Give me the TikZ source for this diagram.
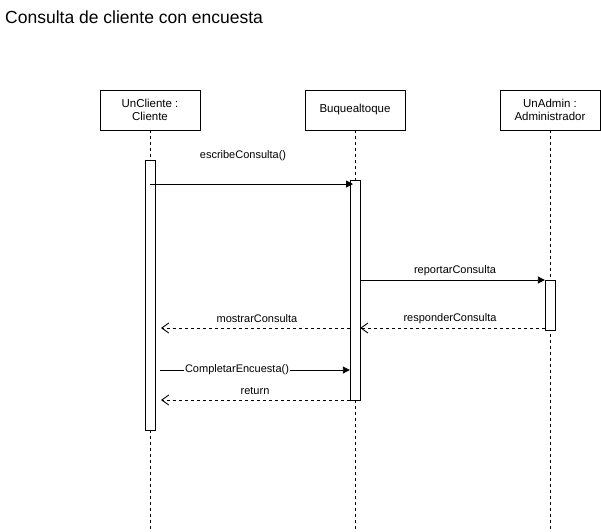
\documentclass[tikz,border=0pt]{standalone}
\usepackage{fontspec}
\setmainfont{Liberation Sans}
\usetikzlibrary{arrows.meta, positioning}

\begin{document}
\begin{tikzpicture}[x=1pt, y=-1pt,
		obj/.style={draw, fill=white, minimum width=100pt, minimum height=40pt,
			align=center, font=\fontsize{11.5}{13.5}\selectfont, inner sep=1pt},
		act/.style={draw, fill=white, minimum width=10pt, inner sep=0pt, anchor=north},
		life/.style={dash pattern=on 3pt off 3pt, line width=0.8pt},
		msg/.style={-{Triangle[length=7pt, width=7pt]}, line width=0.9pt},
		ret/.style={-{Straight Barb[length=7pt, width=10pt]}, line width=0.9pt, dash pattern=on 3pt off 3pt},
		lbl/.style={font=\fontsize{11}{13}\selectfont, inner sep=1pt}
		]
		\useasboundingbox (0,0) rectangle (601,531);
		\node[anchor=west, inner sep=0pt, font=\fontsize{17.5}{20}\selectfont] (title) at (5,17) {Consulta de cliente con encuesta};
		
		% objetos
		\node[obj] (cli) at (150,110) {UnCliente :\\Cliente};
		\node[obj] (buq) at (355,110) {Buquealtoque};
		\node[obj] (adm) at (550,110) {UnAdmin :\\Administrador};
		
		% lineas de vida
		\foreach \o in {cli, buq, adm}
		\draw[life] (\o.south) -- (\o.south |- 0,531);
		
		% activaciones
		\node[act, minimum height=270pt] (actCli) at (150,160) {};
		\node[act, minimum height=220pt] (actBuq) at (355,180) {};
		\node[act, minimum height=50pt] (actAdm) at (550,280) {};
		
		% mensajes
		\coordinate (m1a) at (150,184);
		\coordinate (m1b) at (353,184);
		\coordinate (m2a) at (actBuq.east |- 0,280);
		\coordinate (m2b) at (actAdm.west |- 0,280);
		\coordinate (m3a) at (actAdm.west |- 0,328);
		\coordinate (m3b) at (actBuq.east |- 0,328);
		\coordinate (m4a) at (actBuq.west |- 0,328);
		\coordinate (m4b) at (161,328);
		\coordinate (m5a) at (160,370);
		\coordinate (m5b) at (actBuq.west |- 0,370);
		\coordinate (m6a) at (actBuq.west |- 0,400);
		\coordinate (m6b) at (161,400);
		
		\draw[msg] (m1a) -- (m1b);
		\draw[msg] (m2a) -- (m2b);
		\draw[ret] (m3a) -- (m3b);
		\draw[ret] (m4a) -- (m4b);
		\draw[msg] (m5a) -- (m5b);
		\draw[ret] (m6a) -- (m6b);
		
		\node[lbl] (l1) at (243,156) {escribeConsulta()};
		\node[lbl] (l2) at (455,271) {reportarConsulta};
		\node[lbl] (l3) at (450,319) {responderConsulta};
		\node[lbl] (l4) at (257,319) {mostrarConsulta};
		\node[lbl, fill=white] (l5) at (237,370) {CompletarEncuesta()};
		\node[lbl] (l6) at (255,391) {return};
	\end{tikzpicture}
\end{document}
